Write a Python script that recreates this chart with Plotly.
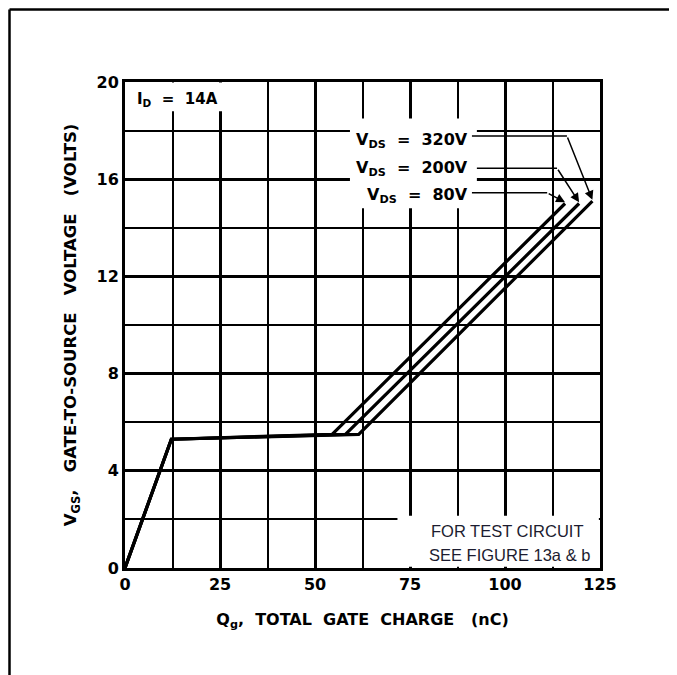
import plotly.graph_objects as go

# ---------------- data ----------------
qg_80v = [0, 12.2, 54.5, 115.8]
vgs_80v = [0, 5.3, 5.5, 15.0]
qg_200v = [0, 12.2, 58.0, 119.5]
vgs_200v = [0, 5.3, 5.5, 15.0]
qg_320v = [0, 12.2, 61.5, 123.0]
vgs_320v = [0, 5.3, 5.5, 15.1]
series_labels = ["80V", "200V", "320V"]
x_ticks = [0, 25, 50, 75, 100, 125]
y_ticks = [0, 4, 8, 12, 16, 20]

FONT_B = dict(family="DejaVu Sans", color="black", size=16, weight="bold")

# plot area inside the figure (page has an 8px body margin)
ML, MR, MT, MB = 117, 85, 74, 115
PW, PH = 677 - ML - MR, 675 - MT - MB

fig = go.Figure()
for qx, vy, name in [(qg_80v, vgs_80v, series_labels[0]),
                     (qg_200v, vgs_200v, series_labels[1]),
                     (qg_320v, vgs_320v, series_labels[2])]:
    fig.add_trace(go.Scatter(x=qx, y=vy, mode="lines", name=name,
                             line=dict(color="black", width=3.2),
                             showlegend=False, hoverinfo="skip"))

shapes = []
# white patches that interrupt the grid behind labels
for x0, x1, y0, y1 in [(0.3, 35, 18.8, 19.98), (59.2, 92.6, 14.8, 18.5), (71.7, 124.7, 0.05, 2.15)]:
    shapes.append(dict(type="rect", xref="x", yref="y", x0=x0, x1=x1, y0=y0, y1=y1,
                       fillcolor="white", line=dict(width=0), layer="between"))

annotations = []
# V_DS leader lines: (label end x, y, elbow x, tip x, tip y)
leaders = [(91.3, 17.78, 116.3, 123.0, 15.15),
           (92.6, 16.45, 113.7, 119.5, 15.05),
           (91.3, 15.44, 111.1, 115.8, 15.05)]
for lx, ly, ex, tx, ty in leaders:
    shapes.append(dict(type="line", xref="x", yref="y", x0=lx, x1=ex, y0=ly, y1=ly,
                       line=dict(color="black", width=1.5), layer="above"))
    annotations.append(dict(x=tx, y=ty, ax=ex, ay=ly, xref="x", yref="y", axref="x", ayref="y",
                            text="", showarrow=True, arrowhead=2, arrowsize=1.2,
                            arrowwidth=1.5, arrowcolor="black"))

# V_DS labels
for txt, yy in [("320V", 17.6), ("200V", 16.43), ("80V", 15.35)]:
    annotations.append(dict(x=90.8, y=yy, xref="x", yref="y", xanchor="right", yanchor="middle",
                            text="V<sub>DS</sub>  =  " + txt, showarrow=False, font=FONT_B))

annotations.append(dict(x=2.6, y=19.3, xref="x", yref="y", xanchor="left", yanchor="middle",
                        text="I<sub>D</sub>  =  14A", showarrow=False,
                        font=dict(family="DejaVu Sans", color="black", size=15, weight="bold")))

annotations.append(dict(x=80.0, y=1.52, xref="x", yref="y", xanchor="left", yanchor="middle",
                        text="FOR TEST CIRCUIT", showarrow=False,
                        font=dict(family="Liberation Sans", color="#1c1c30", size=16.5)))
annotations.append(dict(x=79.5, y=0.53, xref="x", yref="y", xanchor="left", yanchor="middle",
                        text="SEE FIGURE 13a & b", showarrow=False,
                        font=dict(family="Liberation Sans", color="#1c1c30", size=16.5)))

# outer frame (top and left edges), drawn at the figure's edge
top_y = (PH + MT - 1.5) / PH
left_x = (1.5 - ML) / PW
shapes.append(dict(type="line", xref="paper", yref="paper", x0=left_x, x1=(677 - ML) / PW,
                   y0=top_y, y1=top_y, line=dict(color="black", width=2.5)))
shapes.append(dict(type="line", xref="paper", yref="paper", x0=left_x, x1=left_x,
                   y0=top_y, y1=-(MB + 2) / PH, line=dict(color="black", width=2.5)))

fig.update_layout(
    width=677, height=675, autosize=False,
    margin=dict(l=ML, r=MR, t=MT, b=MB),
    paper_bgcolor="white", plot_bgcolor="white",
    shapes=shapes, annotations=annotations,
    xaxis=dict(range=[0, 125], tickvals=x_ticks, ticktext=[str(v) for v in x_ticks],
               showgrid=True, gridcolor="black", gridwidth=3,
               minor=dict(tick0=0, dtick=12.5, showgrid=True, gridcolor="black", gridwidth=2),
               showline=True, linecolor="black", linewidth=3, mirror=True,
               zeroline=False, ticks="", tickfont=FONT_B,
               title=dict(text="Q<sub>g</sub>,  TOTAL  GATE  CHARGE   (nC)",
                          font=dict(family="DejaVu Sans", color="black", size=16, weight="bold"),
                          standoff=21)),
    yaxis=dict(range=[0, 20], tickvals=y_ticks, ticktext=[str(v) for v in y_ticks],
               showgrid=True, gridcolor="black", gridwidth=3,
               minor=dict(tick0=0, dtick=2, showgrid=True, gridcolor="black", gridwidth=2),
               showline=True, linecolor="black", linewidth=3, mirror=True,
               zeroline=False, ticks="", tickfont=FONT_B,
               title=dict(text="V<sub>GS</sub>,   GATE-TO-SOURCE   VOLTAGE   (VOLTS)",
                          font=dict(family="DejaVu Sans", color="black", size=16.5, weight="bold"),
                          standoff=16)),
)

fig.write_html("out.html")
